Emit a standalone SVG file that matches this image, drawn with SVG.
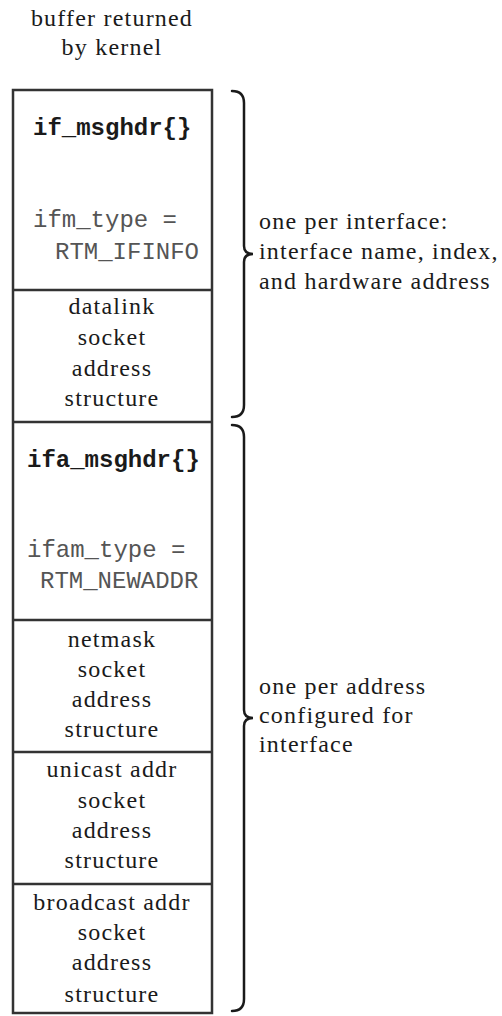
<svg xmlns="http://www.w3.org/2000/svg" width="502" height="1016" viewBox="0 0 502 1016">
<style>
.serif{font-family:"Liberation Serif","Times New Roman",serif;font-size:24px;letter-spacing:1.2px;fill:#1a1a1a}
.c{text-anchor:middle}
.mono{font-family:"Liberation Mono","Courier New",monospace;font-size:24px;fill:#555}
.monob{font-family:"Liberation Mono","Courier New",monospace;font-size:24px;font-weight:bold;fill:#1a1a1a}
.box{fill:#fff;stroke:#333;stroke-width:2.5}
.div{stroke:#333;stroke-width:2.5}
.brace{fill:none;stroke:#1a1a1a;stroke-width:2.5;stroke-linecap:round}
</style>
<rect width="502" height="1016" fill="#fff"/>
<g id="title">
<text class="serif c" x="112" y="26">buffer returned</text>
<text class="serif c" x="112" y="55">by kernel</text>
</g>
<g id="buffer">
<rect class="box" x="13" y="90" width="199" height="923"/>
</g>
<g id="if_msghdr">
<text class="monob" x="33" y="135">if_msghdr{}</text>
<text class="mono" x="33" y="227">ifm_type =</text>
<text class="mono" x="55" y="259">RTM_IFINFO</text>
</g>
<g id="datalink">
<line class="div" x1="13" y1="290" x2="212" y2="290"/>
<text class="serif c" x="112" y="314">datalink</text>
<text class="serif c" x="112" y="345">socket</text>
<text class="serif c" x="112" y="376">address</text>
<text class="serif c" x="112" y="406">structure</text>
</g>
<g id="ifa_msghdr">
<line class="div" x1="13" y1="422" x2="212" y2="422"/>
<text class="monob" x="27" y="467">ifa_msghdr{}</text>
<text class="mono" x="27" y="557">ifam_type =</text>
<text class="mono" x="40" y="588">RTM_NEWADDR</text>
</g>
<g id="netmask">
<line class="div" x1="13" y1="620" x2="212" y2="620"/>
<text class="serif c" x="112" y="647">netmask</text>
<text class="serif c" x="112" y="677">socket</text>
<text class="serif c" x="112" y="707">address</text>
<text class="serif c" x="112" y="737">structure</text>
</g>
<g id="unicast">
<line class="div" x1="13" y1="752" x2="212" y2="752"/>
<text class="serif c" x="112" y="777">unicast addr</text>
<text class="serif c" x="112" y="808">socket</text>
<text class="serif c" x="112" y="838">address</text>
<text class="serif c" x="112" y="868">structure</text>
</g>
<g id="broadcast">
<line class="div" x1="13" y1="884" x2="212" y2="884"/>
<text class="serif c" x="112" y="910">broadcast addr</text>
<text class="serif c" x="112" y="940">socket</text>
<text class="serif c" x="112" y="970">address</text>
<text class="serif c" x="112" y="1002">structure</text>
</g>
<g id="braces">
<path class="brace" d="M232,91 Q244,91 244,103 L244,246 Q244,254 253,254 Q244,254 244,262 L244,405 Q244,417 232,417"/>
<path class="brace" d="M232,425 Q244,425 244,437 L244,710 Q244,718 253,718 Q244,718 244,726 L244,999 Q244,1011 232,1011"/>
</g>
<g id="note-interface">
<text class="serif" x="259" y="229">one per interface:</text>
<text class="serif" x="259" y="259">interface name, index,</text>
<text class="serif" x="259" y="289">and hardware address</text>
</g>
<g id="note-address">
<text class="serif" x="259" y="694">one per address</text>
<text class="serif" x="259" y="723">configured for</text>
<text class="serif" x="259" y="752">interface</text>
</g>
</svg>
